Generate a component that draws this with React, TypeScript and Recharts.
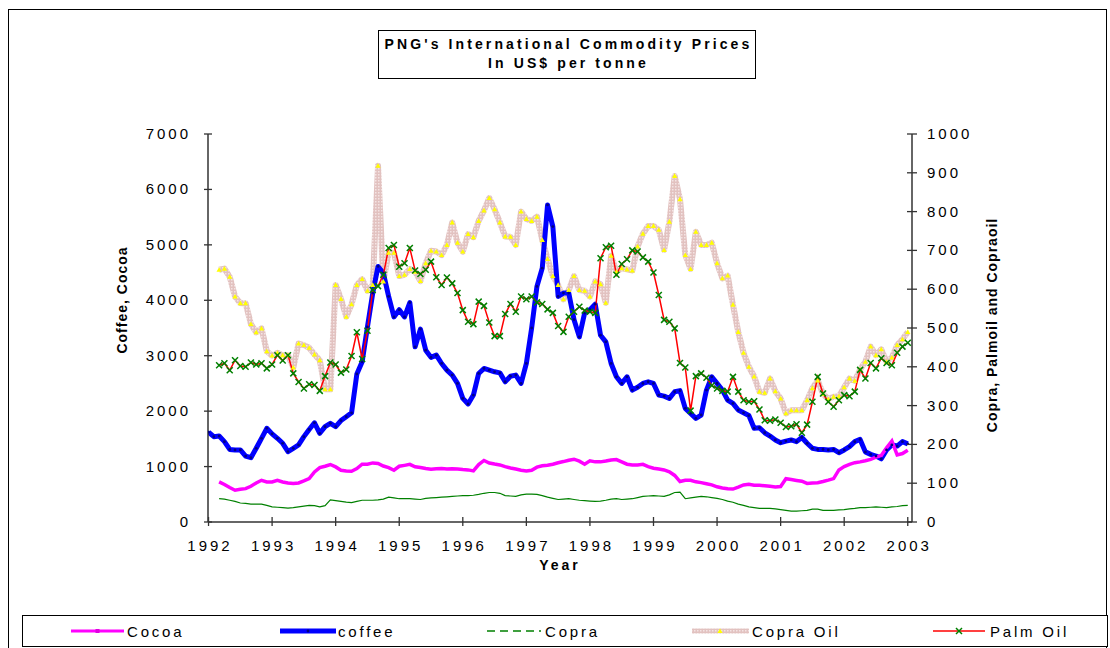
import React from 'react';
import { LineChart, Line, XAxis, YAxis } from 'recharts';

// monthly observations, Jan 1992 .. Jan 2003 (index 0 = Jan 1992)
const YEARS = ['1992', '1993', '1994', '1995', '1996', '1997', '1998', '1999', '2000', '2001', '2002', '2003'];
const LEFT_TICKS = [0, 1000, 2000, 3000, 4000, 5000, 6000, 7000];
const RIGHT_TICKS = [0, 100, 200, 300, 400, 500, 600, 700, 800, 900, 1000];

const coffee = [
  1620, 1540, 1550, 1450, 1310, 1300, 1300, 1190, 1160, 1330, 1510, 1690,
  1590, 1510, 1420, 1270, 1330, 1390, 1540, 1670, 1790, 1600, 1720, 1780,
  1720, 1830, 1900, 1970, 2670, 2890, 3520, 4130, 4610, 4490, 4070, 3700,
  3830, 3700, 3960, 3160, 3480, 3100, 2970, 3010, 2860, 2740, 2650, 2500,
  2230, 2130, 2290, 2680, 2770, 2740, 2710, 2690, 2530, 2630, 2650, 2500,
  2860, 3500, 4250, 4580, 5720, 5330, 4070, 4130, 4130, 3650, 3340, 3770,
  3830, 3930, 3370, 3250, 2860, 2620, 2500, 2620, 2380, 2430, 2500, 2530,
  2500, 2290, 2270, 2230, 2350, 2370, 2050, 1960, 1870, 1930, 2380, 2620,
  2500, 2380, 2200, 2140, 2020, 1970, 1920, 1690, 1700, 1610, 1550, 1480,
  1430, 1460, 1480, 1450, 1525, 1420, 1330, 1310, 1310, 1300, 1310, 1250,
  1300, 1360, 1450, 1490, 1265, 1220, 1190, 1140, 1300, 1390, 1370, 1450,
  1410,
];

const cocoa = [
  null, null, 723, 676, 621, 573, 591, 602, 645, 705, 753, 723,
  723, 753, 723, 705, 693, 705, 741, 783, 904, 982, 1006, 1037,
  994, 934, 922, 916, 964, 1043, 1043, 1066, 1055, 1010, 980, 934,
  1006, 1022, 1040, 995, 982, 964, 950, 962, 964, 955, 960, 955,
  946, 940, 922, 1037, 1110, 1065, 1045, 1030, 1000, 975, 955, 935,
  922, 934, 990, 1015, 1025, 1043, 1070, 1090, 1115, 1133, 1097, 1043,
  1103, 1085, 1085, 1100, 1120, 1127, 1085, 1043, 1030, 1030, 1040, 1000,
  970, 955, 940, 905, 840, 730, 753, 753, 725, 710, 690, 670,
  635, 615, 600, 595, 630, 668, 680, 665, 663, 655, 645, 633,
  640, 780, 765, 750, 735, 695, 705, 708, 730, 755, 783, 940,
  1000, 1040, 1070, 1085, 1105, 1130, 1170, 1200, 1340, 1460, 1210, 1235,
  1296,
];

const copra = [
  null, null, 420, 413, 392, 371, 343, 336, 322, 322, 322, 301,
  273, 266, 259, 252, 259, 273, 287, 301, 294, 273, 294, 399,
  385, 371, 357, 350, 371, 392, 392, 392, 399, 413, 448, 434,
  420, 420, 420, 413, 406, 427, 434, 441, 448, 455, 462, 469,
  476, 476, 483, 497, 518, 532, 532, 518, 476, 469, 462, 490,
  504, 504, 497, 476, 448, 427, 406, 413, 420, 406, 392, 385,
  378, 371, 378, 392, 413, 420, 406, 413, 420, 441, 462, 469,
  476, 469, 462, 490, 532, 539, 420, 434, 448, 462, 455, 441,
  427, 406, 378, 357, 322, 301, 273, 259, 245, 245, 245, 238,
  224, 210, 196, 196, 203, 210, 231, 231, 210, 210, 210, 217,
  224, 238, 245, 259, 259, 266, 273, 266, 259, 273, 280, 294,
  301,
];

const copraOil = [
  null, null, 650, 653, 632, 581, 564, 564, 510, 489, 499, 440,
  429, 436, 430, 430, 398, 460, 456, 449, 432, 417, 342, 342,
  611, 575, 529, 561, 611, 626, 596, 611, 918, 620, 694, 694,
  634, 637, 652, 645, 621, 667, 699, 697, 688, 714, 772, 720,
  697, 742, 734, 776, 803, 835, 806, 772, 736, 735, 714, 800,
  781, 776, 787, 727, 678, 634, 611, 574, 598, 634, 598, 596,
  581, 620, 613, 565, 686, 645, 654, 651, 648, 710, 743, 763,
  763, 753, 701, 774, 892, 832, 688, 652, 748, 714, 714, 720,
  667, 628, 635, 560, 490, 436, 400, 375, 336, 333, 370, 337,
  318, 280, 288, 288, 288, 314, 345, 365, 330, 317, 323, 324,
  347, 370, 364, 393, 413, 452, 430, 445, 413, 424, 456, 471,
  490,
];

const palmOil = [
  null, null, 404, 409, 391, 417, 402, 400, 411, 406, 409, 396,
  406, 430, 416, 430, 383, 361, 344, 355, 353, 338, 376, 411,
  406, 385, 393, 428, 489, 420, 493, 598, 608, 637, 706, 714,
  658, 667, 706, 648, 639, 650, 671, 631, 611, 630, 615, 590,
  546, 516, 510, 568, 557, 514, 479, 479, 536, 562, 542, 581,
  574, 581, 566, 562, 548, 539, 505, 490, 529, 542, 555, 545,
  542, 539, 680, 708, 712, 637, 665, 677, 700, 697, 682, 671,
  643, 585, 521, 516, 499, 410, 398, 287, 376, 383, 372, 352,
  344, 338, 336, 374, 336, 314, 310, 311, 290, 262, 261, 264,
  256, 245, 247, 252, 230, 251, 310, 374, 331, 310, 297, 314,
  327, 324, 336, 392, 370, 410, 396, 422, 410, 404, 436, 452,
  462,
];

const data = coffee.map((v, i) => ({
  month: i,
  coffee: v,
  cocoa: cocoa[i],
  copra: copra[i],
  copraOil: copraOil[i],
  palmOil: palmOil[i],
}));

const FONT = '"Liberation Sans", Arial, Helvetica, sans-serif';
const AXIS = '#333';
const PLOT_LEFT = 208;
const PLOT_RIGHT = 912;
const PLOT_BOTTOM = 522;

const LeftTick = (props: any) => {
  const { y, payload } = props;
  return (
    <g>
      <line x1={PLOT_LEFT - 4} x2={PLOT_LEFT + 4} y1={y} y2={y} stroke={AXIS} strokeWidth={1.3} />
      <text x={PLOT_LEFT - 17} y={y + 5} textAnchor="end" fontSize={15} letterSpacing={3} fill="#000" fontFamily={FONT}>
        {payload.value}
      </text>
    </g>
  );
};

const RightTick = (props: any) => {
  const { y, payload } = props;
  return (
    <g>
      <line x1={PLOT_RIGHT - 5} x2={PLOT_RIGHT + 5} y1={y} y2={y} stroke={AXIS} strokeWidth={1.3} />
      <text x={PLOT_RIGHT + 15} y={y + 5} textAnchor="start" fontSize={15} letterSpacing={3} fill="#000" fontFamily={FONT}>
        {payload.value}
      </text>
    </g>
  );
};

const YearTick = (props: any) => {
  const { x, payload, index } = props;
  return (
    <g>
      <line x1={x} x2={x} y1={PLOT_BOTTOM - 5} y2={PLOT_BOTTOM + 4} stroke={AXIS} strokeWidth={1.3} />
      <text x={x + 1.5} y={PLOT_BOTTOM + 29} textAnchor="middle" fontSize={15} letterSpacing={3} fill="#000" fontFamily={FONT}>
        {YEARS[index] ?? YEARS[Math.round(payload.value / 12)]}
      </text>
    </g>
  );
};

const XMark = (props: any) => {
  const { cx, cy, index, value } = props;
  if (value == null || cx == null || cy == null) return <g key={`x${index}`} />;
  return (
    <g key={`x${index}`}>
      <line x1={cx - 3} y1={cy - 3} x2={cx + 3} y2={cy + 3} stroke="#008000" strokeWidth={1.5} />
      <line x1={cx - 3} y1={cy + 3} x2={cx + 3} y2={cy - 3} stroke="#008000" strokeWidth={1.5} />
    </g>
  );
};

const Tri = (props: any) => {
  const { cx, cy, index, value } = props;
  if (value == null || cx == null || cy == null) return <g key={`t${index}`} />;
  return <polygon key={`t${index}`} points={`${cx},${cy - 2.6} ${cx - 2.6},${cy + 2} ${cx + 2.6},${cy + 2}`} fill="#FFFF00" />;
};

const NavyDot = (props: any) => {
  const { cx, cy, index, value } = props;
  if (value == null || cx == null || cy == null) return <g key={`d${index}`} />;
  return <circle key={`d${index}`} cx={cx} cy={cy} r={1.4} fill="#000080" />;
};

const txt: React.CSSProperties = { position: 'absolute', fontFamily: FONT, color: '#000', whiteSpace: 'nowrap' };

function Legend() {
  const y = 16;
  return (
    <svg width={1086} height={32} style={{ position: 'absolute', left: 22, top: 615, overflow: 'visible' }}>
      <defs>
        <pattern id="hatchL" width="3" height="3" patternUnits="userSpaceOnUse">
          <rect width="3" height="3" fill="#E2C2C0" />
          <rect width="1.5" height="1.5" fill="#F4E4E4" />
        </pattern>
      </defs>
      <rect x={0.5} y={0.5} width={1085} height={31} fill="#fff" stroke="#000" strokeWidth={1} />
      <line x1={49} x2={102} y1={y} y2={y} stroke="#FF00FF" strokeWidth={3} />
      <rect x={73.5} y={y - 2} width={4} height={4} fill="#E000E0" />
      <line x1={258} x2={314} y1={y} y2={y} stroke="#0000FF" strokeWidth={5} />
      <circle cx={286} cy={y} r={1.4} fill="#000080" />
      <line x1={465} x2={519} y1={y} y2={y} stroke="#008000" strokeWidth={1.6} strokeDasharray="8 5" />
      <line x1={670} x2={727} y1={y} y2={y} stroke="url(#hatchL)" strokeWidth={5} />
      <polygon points={`698,${y - 2.6} 695.4,${y + 2} 700.6,${y + 2}`} fill="#FFFF00" />
      <line x1={911} x2={963} y1={y} y2={y} stroke="#FF0000" strokeWidth={1.5} />
      <line x1={934} y1={y - 3} x2={940} y2={y + 3} stroke="#008000" strokeWidth={1.5} />
      <line x1={934} y1={y + 3} x2={940} y2={y - 3} stroke="#008000" strokeWidth={1.5} />
      {[
        ['Cocoa', 105],
        ['coffee', 316],
        ['Copra', 523],
        ['Copra Oil', 730],
        ['Palm Oil', 968],
      ].map(([label, x]) => (
        <text key={label as string} x={x as number} y={y + 5.5} fontSize={15} letterSpacing={2.8} fontFamily={FONT} fill="#000">
          {label}
        </text>
      ))}
    </svg>
  );
}

export default function App() {
  return (
    <div style={{ position: 'absolute', left: 0, top: 0, width: 1110, height: 648, background: '#fff', overflow: 'hidden' }}>
      {/* outer frame */}
      <div style={{ position: 'absolute', left: 8, top: 9, width: 1099, height: 660, border: '1px solid #000', boxSizing: 'border-box' }} />

      {/* title box */}
      <div
        style={{
          ...txt,
          left: 378,
          top: 30,
          width: 378,
          height: 49,
          border: '1.5px solid #000',
          boxSizing: 'border-box',
          textAlign: 'center',
          fontWeight: 'bold',
          fontSize: 14,
          letterSpacing: 3.1,
          lineHeight: '19px',
          paddingTop: 4,
          paddingLeft: 3,
          background: '#fff',
        }}
      >
        PNG's International Commodity Prices
        <br />
        In US$ per tonne
      </div>

      <LineChart
        width={1110}
        height={648}
        data={data}
        margin={{ top: 134, right: 138, bottom: 96, left: 148 }}
        style={{ position: 'absolute', left: 0, top: 0 }}
      >
        <defs>
          <pattern id="hatch" width="3" height="3" patternUnits="userSpaceOnUse">
            <rect width="3" height="3" fill="#E2C2C0" />
            <rect width="1.5" height="1.5" fill="#F4E4E4" />
          </pattern>
        </defs>
        <XAxis
          dataKey="month"
          type="number"
          domain={[-0.1, 132.8]}
          ticks={YEARS.map((_, i) => i * 12)}
          height={30}
          axisLine={{ stroke: AXIS, strokeWidth: 1.5 }}
          tickLine={false}
          tick={YearTick}
          interval={0}
          allowDataOverflow
        />
        <YAxis
          yAxisId="left"
          width={60}
          domain={[0, 7000]}
          ticks={LEFT_TICKS}
          axisLine={{ stroke: AXIS, strokeWidth: 1.5 }}
          tickLine={false}
          tick={LeftTick}
          interval={0}
        />
        <YAxis
          yAxisId="right"
          orientation="right"
          width={60}
          domain={[0, 1000]}
          ticks={RIGHT_TICKS}
          axisLine={{ stroke: AXIS, strokeWidth: 1.5 }}
          tickLine={false}
          tick={RightTick}
          interval={0}
        />
        <Line yAxisId="right" dataKey="copraOil" name="Copra Oil" stroke="url(#hatch)" strokeWidth={6} dot={Tri} activeDot={false} isAnimationActive={false} strokeLinejoin="round" />
        <Line yAxisId="left" dataKey="coffee" name="coffee" stroke="#0000FF" strokeWidth={5} dot={NavyDot} activeDot={false} isAnimationActive={false} strokeLinejoin="round" />
        <Line yAxisId="left" dataKey="cocoa" name="Cocoa" stroke="#FF00FF" strokeWidth={3.5} dot={false} activeDot={false} isAnimationActive={false} />
        <Line yAxisId="left" dataKey="copra" name="Copra" stroke="#008000" strokeWidth={1.2} dot={false} activeDot={false} isAnimationActive={false} />
        <Line yAxisId="right" dataKey="palmOil" name="Palm Oil" stroke="#FF0000" strokeWidth={1.5} dot={XMark} activeDot={false} isAnimationActive={false} />
      </LineChart>

      {/* axis titles */}
      <div style={{ ...txt, left: 560, top: 565, transform: 'translate(-50%, -50%)', fontWeight: 'bold', fontSize: 14, letterSpacing: 3 }}>Year</div>
      <div style={{ ...txt, left: 122, top: 300, transform: 'translate(-50%, -50%) rotate(-90deg)', fontWeight: 'bold', fontSize: 14, letterSpacing: 1 }}>
        Coffee, Cocoa
      </div>
      <div style={{ ...txt, left: 992, top: 325, transform: 'translate(-50%, -50%) rotate(-90deg)', fontWeight: 'bold', fontSize: 14, letterSpacing: 1 }}>
        Copra, Palmoil and Copraoil
      </div>

      <Legend />
    </div>
  );
}
